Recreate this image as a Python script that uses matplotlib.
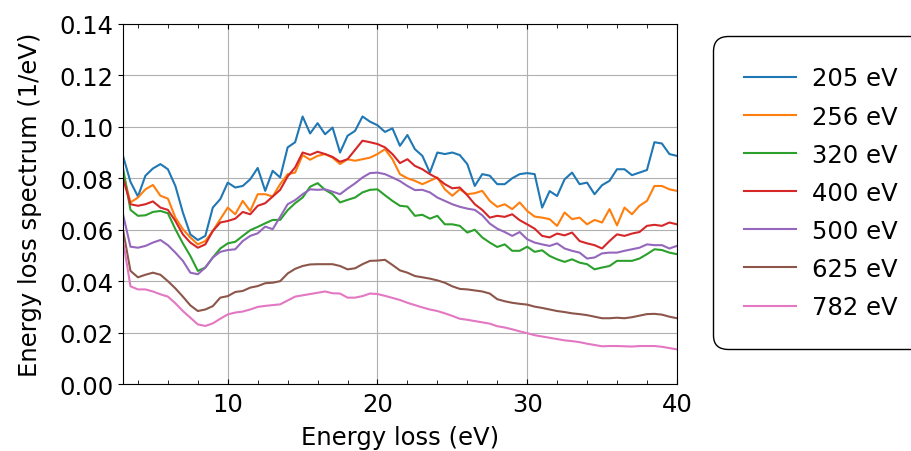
import numpy as np
import matplotlib
matplotlib.use("Agg")
import matplotlib.pyplot as plt
from matplotlib.ticker import MultipleLocator

# energy loss grid (eV)
energy_loss = np.arange(3.0, 40.5, 0.5)

labels = ["205 eV", "256 eV", "320 eV", "400 eV", "500 eV", "625 eV", "782 eV"]

els_205 = [
    0.0887, 0.0786, 0.0729, 0.0810, 0.0838, 0.0855, 0.0835, 0.0770, 0.0667, 0.0582,
    0.0560, 0.0576, 0.0686, 0.0719, 0.0783, 0.0764, 0.0770, 0.0796, 0.0840, 0.0751,
    0.0829, 0.0803, 0.0920, 0.0940, 0.1040, 0.0974, 0.1014, 0.0971, 0.0997, 0.0900,
    0.0965, 0.0984, 0.1040, 0.1020, 0.1006, 0.0980, 0.0994, 0.0926, 0.0968, 0.0913,
    0.0887, 0.0822, 0.0900, 0.0894, 0.0900, 0.0890, 0.0855, 0.0770, 0.0816, 0.0810,
    0.0777, 0.0777, 0.0800, 0.0816, 0.0820, 0.0816, 0.0686, 0.0750, 0.0731, 0.0796,
    0.0822, 0.0777, 0.0783, 0.0738, 0.0773, 0.0790, 0.0835, 0.0835, 0.0812, 0.0822,
    0.0832, 0.0940, 0.0935, 0.0894, 0.0887,
]
els_256 = [
    0.0820, 0.0706, 0.0725, 0.0757, 0.0774, 0.0732, 0.0721, 0.0647, 0.0602, 0.0570,
    0.0543, 0.0556, 0.0595, 0.0641, 0.0686, 0.0660, 0.0712, 0.0673, 0.0738, 0.0738,
    0.0729, 0.0777, 0.0816, 0.0822, 0.0890, 0.0872, 0.0887, 0.0894, 0.0880, 0.0855,
    0.0874, 0.0868, 0.0874, 0.0880, 0.0894, 0.0913, 0.0874, 0.0816, 0.0800, 0.0790,
    0.0777, 0.0790, 0.0803, 0.0757, 0.0732, 0.0757, 0.0738, 0.0742, 0.0751, 0.0712,
    0.0689, 0.0699, 0.0680, 0.0706, 0.0673, 0.0651, 0.0647, 0.0641, 0.0615, 0.0667,
    0.0641, 0.0647, 0.0621, 0.0638, 0.0628, 0.0680, 0.0617, 0.0686, 0.0660, 0.0693,
    0.0712, 0.0770, 0.0770, 0.0757, 0.0751,
]
els_320 = [
    0.0840, 0.0677, 0.0654, 0.0656, 0.0669, 0.0673, 0.0664, 0.0602, 0.0547, 0.0498,
    0.0440, 0.0453, 0.0492, 0.0527, 0.0547, 0.0553, 0.0576, 0.0598, 0.0611, 0.0625,
    0.0638, 0.0638, 0.0676, 0.0703, 0.0725, 0.0767, 0.0781, 0.0755, 0.0738, 0.0706,
    0.0716, 0.0725, 0.0745, 0.0755, 0.0757, 0.0734, 0.0712, 0.0693, 0.0690, 0.0654,
    0.0658, 0.0643, 0.0654, 0.0621, 0.0621, 0.0615, 0.0589, 0.0600, 0.0570, 0.0550,
    0.0533, 0.0543, 0.0518, 0.0518, 0.0534, 0.0514, 0.0520, 0.0498, 0.0485, 0.0475,
    0.0485, 0.0472, 0.0466, 0.0446, 0.0453, 0.0459, 0.0479, 0.0479, 0.0479, 0.0488,
    0.0505, 0.0524, 0.0521, 0.0511, 0.0505,
]
els_400 = [
    0.0800, 0.0699, 0.0693, 0.0699, 0.0710, 0.0686, 0.0677, 0.0634, 0.0582, 0.0550,
    0.0530, 0.0543, 0.0595, 0.0628, 0.0634, 0.0643, 0.0669, 0.0660, 0.0693, 0.0703,
    0.0729, 0.0755, 0.0807, 0.0842, 0.0900, 0.0891, 0.0903, 0.0894, 0.0883, 0.0864,
    0.0874, 0.0910, 0.0946, 0.0940, 0.0933, 0.0920, 0.0894, 0.0859, 0.0874, 0.0848,
    0.0835, 0.0816, 0.0800, 0.0777, 0.0761, 0.0764, 0.0734, 0.0699, 0.0677, 0.0647,
    0.0654, 0.0650, 0.0660, 0.0637, 0.0621, 0.0604, 0.0576, 0.0570, 0.0585, 0.0578,
    0.0589, 0.0556, 0.0547, 0.0540, 0.0527, 0.0556, 0.0582, 0.0576, 0.0585, 0.0591,
    0.0615, 0.0619, 0.0615, 0.0628, 0.0621,
]
els_500 = [
    0.0660, 0.0534, 0.0530, 0.0537, 0.0550, 0.0560, 0.0540, 0.0511, 0.0479, 0.0433,
    0.0427, 0.0453, 0.0492, 0.0514, 0.0521, 0.0524, 0.0556, 0.0576, 0.0586, 0.0612,
    0.0602, 0.0650, 0.0699, 0.0715, 0.0738, 0.0757, 0.0755, 0.0757, 0.0748, 0.0738,
    0.0760, 0.0780, 0.0803, 0.0820, 0.0822, 0.0816, 0.0803, 0.0789, 0.0770, 0.0754,
    0.0755, 0.0745, 0.0725, 0.0712, 0.0699, 0.0689, 0.0682, 0.0677, 0.0656, 0.0624,
    0.0604, 0.0591, 0.0576, 0.0591, 0.0563, 0.0550, 0.0543, 0.0537, 0.0547, 0.0527,
    0.0518, 0.0511, 0.0488, 0.0492, 0.0508, 0.0511, 0.0511, 0.0518, 0.0524, 0.0530,
    0.0543, 0.0540, 0.0540, 0.0527, 0.0537,
]
els_625 = [
    0.0600, 0.0440, 0.0415, 0.0425, 0.0433, 0.0425, 0.0400, 0.0372, 0.0340, 0.0306,
    0.0284, 0.0290, 0.0303, 0.0336, 0.0342, 0.0358, 0.0362, 0.0375, 0.0381, 0.0392,
    0.0394, 0.0400, 0.0430, 0.0448, 0.0459, 0.0465, 0.0466, 0.0466, 0.0466, 0.0459,
    0.0446, 0.0450, 0.0466, 0.0479, 0.0480, 0.0483, 0.0463, 0.0442, 0.0433, 0.0420,
    0.0415, 0.0410, 0.0403, 0.0394, 0.0380, 0.0370, 0.0368, 0.0364, 0.0360, 0.0352,
    0.0330, 0.0322, 0.0316, 0.0312, 0.0309, 0.0301, 0.0296, 0.0290, 0.0284, 0.0280,
    0.0275, 0.0272, 0.0268, 0.0262, 0.0256, 0.0256, 0.0258, 0.0256, 0.0260, 0.0266,
    0.0272, 0.0273, 0.0270, 0.0262, 0.0256,
]
els_782 = [
    0.0560, 0.0380, 0.0368, 0.0368, 0.0360, 0.0349, 0.0340, 0.0314, 0.0284, 0.0258,
    0.0232, 0.0226, 0.0236, 0.0254, 0.0271, 0.0278, 0.0282, 0.0290, 0.0300, 0.0304,
    0.0307, 0.0310, 0.0325, 0.0340, 0.0345, 0.0350, 0.0355, 0.0360, 0.0353, 0.0352,
    0.0336, 0.0336, 0.0342, 0.0352, 0.0350, 0.0343, 0.0335, 0.0327, 0.0316, 0.0307,
    0.0298, 0.0290, 0.0284, 0.0275, 0.0265, 0.0254, 0.0250, 0.0245, 0.0240, 0.0235,
    0.0225, 0.0220, 0.0213, 0.0205, 0.0198, 0.0190, 0.0185, 0.0180, 0.0175, 0.0170,
    0.0167, 0.0163, 0.0157, 0.0152, 0.0147, 0.0148, 0.0148, 0.0147, 0.0146, 0.0148,
    0.0148, 0.0148, 0.0145, 0.0140, 0.0135,
]

spectra = [els_205, els_256, els_320, els_400, els_500, els_625, els_782]

plt.rcParams['font.size'] = 17.5

fig = plt.figure(figsize=(9.11, 4.52), dpi=100)
ax = fig.add_axes([0.135, 0.148, 0.608, 0.797])

for spec, lab in zip(spectra, labels):
    ax.plot(energy_loss, spec, label=lab, linewidth=1.5)

ax.set_xlim(3, 40)
ax.set_ylim(0, 0.14)
ax.set_yticks(np.arange(0, 0.141, 0.02))
ax.xaxis.set_major_locator(MultipleLocator(10))
ax.xaxis.set_minor_locator(MultipleLocator(2))
ax.tick_params(axis='x', which='both', direction='in', top=True, pad=6)
ax.tick_params(axis='x', which='minor', length=3)
ax.grid(True)

ax.set_xlabel('Energy loss (eV)', labelpad=6)
ax.set_ylabel('Energy loss spectrum (1/eV)', labelpad=12)

leg = ax.legend(loc='upper left', bbox_to_anchor=(0.783, 0.918),
                bbox_transform=fig.transFigure, borderaxespad=0,
                borderpad=1.25, labelspacing=0.58, handlelength=2.15,
                handletextpad=0.65, framealpha=1)
frame = leg.get_frame()
frame.set_edgecolor('black')
frame.set_linewidth(1.0)
frame.set_boxstyle('round', pad=0, rounding_size=0.6)

fig.savefig('out.png', dpi=100)
